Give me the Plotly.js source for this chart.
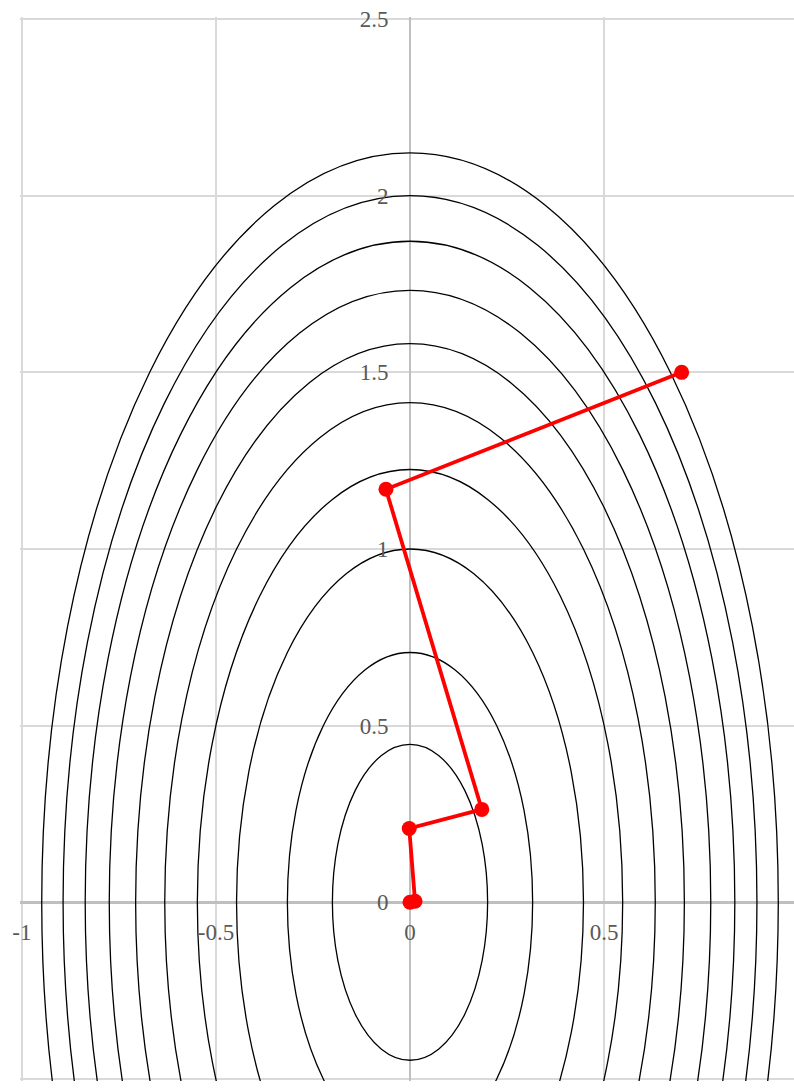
<!DOCTYPE html>
<html>
<head>
<meta charset="utf-8">
<script src="https://cdn.plot.ly/plotly-3.0.1.min.js"></script>
<style>html,body{margin:0;padding:0;background:#fff}#chart{width:794px;height:1091px}</style>
</head>
<body>
<div id="chart"></div>
<script>
// Contour levels of f(x,y) and their semi-axes
var contourLevels = [0.2, 0.5, 1, 1.5, 2, 2.5, 3, 3.5, 4, 4.5];
var semiAxisX = [0.200, 0.316, 0.447, 0.548, 0.632, 0.707, 0.775, 0.837, 0.894, 0.949];
var semiAxisY = [0.447, 0.707, 1.000, 1.225, 1.414, 1.581, 1.732, 1.871, 2.000, 2.121];

// Optimisation path (red)
var pathX = [0.700, -0.062, 0.185, -0.002, 0.013, 0.000];
var pathY = [1.500, 1.169, 0.263, 0.209, 0.003, 0.000];

// Tick values
var xTicks = [-1, -0.5, 0, 0.5];
var xTickText = ['-1', '-0.5', '0', '0.5'];
var yTicks = [-0.5, 0, 0.5, 1, 1.5, 2, 2.5];
var yTickText = ['-0.5', '0', '0.5', '1', '1.5', '2', '2.5'];

var shapes = contourLevels.map(function (lv, i) {
  return {
    type: 'circle', xref: 'x', yref: 'y', layer: 'between',
    x0: -semiAxisX[i], x1: semiAxisX[i], y0: -semiAxisY[i], y1: semiAxisY[i],
    line: {color: '#000000', width: 1.3}
  };
});

var trace = {
  type: 'scatter', mode: 'lines+markers',
  x: pathX, y: pathY,
  line: {color: '#ff0000', width: 3.8},
  marker: {color: '#ff0000', size: 15},
  cliponaxis: false,
  hoverinfo: 'none'
};

var tickFont = {family: 'Liberation Serif', size: 23, color: '#595959'};

var layout = {
  width: 794, height: 1091,
  margin: {l: 20, r: 0, t: 17, b: 10, pad: 0},
  paper_bgcolor: '#ffffff', plot_bgcolor: '#ffffff',
  showlegend: false,
  xaxis: {
    range: [-1.005, 0.9895], anchor: 'free', position: 0.16823,
    tickmode: 'array', tickvals: xTicks, ticktext: xTickText,
    ticks: 'outside', ticklen: 9, tickcolor: 'rgba(0,0,0,0)',
    tickfont: tickFont,
    showgrid: true, gridcolor: '#d9d9d9', gridwidth: 2,
    zeroline: true, zerolinecolor: '#bfbfbf', zerolinewidth: 2.5,
    showline: false, fixedrange: true
  },
  yaxis: {
    range: [-0.5057, 2.5057], anchor: 'free', position: 0.50388,
    tickmode: 'array', tickvals: yTicks, ticktext: yTickText,
    ticks: 'outside', ticklen: 17, tickcolor: 'rgba(0,0,0,0)',
    tickfont: tickFont,
    showgrid: true, gridcolor: '#d9d9d9', gridwidth: 2,
    zeroline: true, zerolinecolor: '#bfbfbf', zerolinewidth: 2.5,
    showline: false, fixedrange: true
  },
  shapes: shapes
};

Plotly.newPlot('chart', [trace], layout, {displayModeBar: false, staticPlot: true});
</script>
</body>
</html>
